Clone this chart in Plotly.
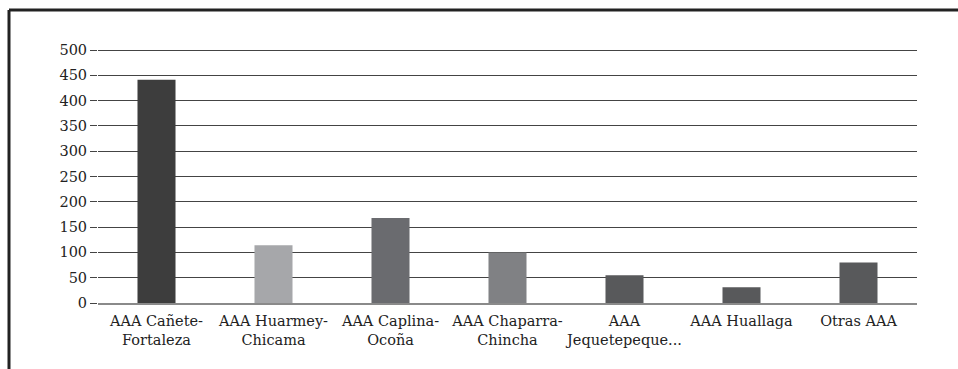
import plotly.graph_objects as go

categories = ["AAA Cañete-<br>Fortaleza", "AAA Huarmey-<br>Chicama", "AAA Caplina-<br>Ocoña",
              "AAA Chaparra-<br>Chincha", "AAA<br>Jequetepeque...", "AAA Huallaga", "Otras AAA"]
values = [441, 114, 168, 100, 55, 31, 80]
colors = ["#3d3d3d", "#a6a7aa", "#6a6b6f", "#808184", "#58595b", "#58595b", "#58595b"]
y_ticks = [0, 50, 100, 150, 200, 250, 300, 350, 400, 450, 500]

fig = go.Figure(go.Bar(x=categories, y=values, marker=dict(color=colors, line=dict(width=0)),
                       width=0.325))

L, R, T, B = 98, 41, 49, 66
W, H = 958, 369
pw, ph = W - L - R, H - T - B
FONT = "DejaVu Serif"

fig.update_layout(
    width=W, height=H,
    margin=dict(l=L, r=R, t=T, b=B, pad=0),
    paper_bgcolor="white", plot_bgcolor="white",
    font=dict(family=FONT, size=14.5, color="#222"),
    showlegend=False,
    xaxis=dict(showgrid=False, showline=True, linecolor="#8a8a8a", linewidth=2,
               ticks="", ticklabelstandoff=4, tickfont=dict(family=FONT, size=14.5, color="#222")),
    yaxis=dict(range=[0, 502], tickvals=y_ticks, showgrid=True, gridcolor="#444", gridwidth=1.3,
               zeroline=False, ticks="outside", ticklen=7, tickcolor="#444", tickwidth=1.3,
               tickfont=dict(family=FONT, size=14.5, color="#222"), showline=False),
    shapes=[
        dict(type="line", xref="paper", yref="paper",
             x0=(9 - L) / pw, x1=(W + 5 - L) / pw, y0=(H - B - 10) / ph, y1=(H - B - 10) / ph,
             line=dict(color="#222", width=3)),
        dict(type="line", xref="paper", yref="paper",
             x0=(9 - L) / pw, x1=(9 - L) / pw, y0=(H - B - 10) / ph, y1=(H - B - H - 5) / ph,
             line=dict(color="#222", width=3)),
    ],
)

fig.write_html("out.html")
